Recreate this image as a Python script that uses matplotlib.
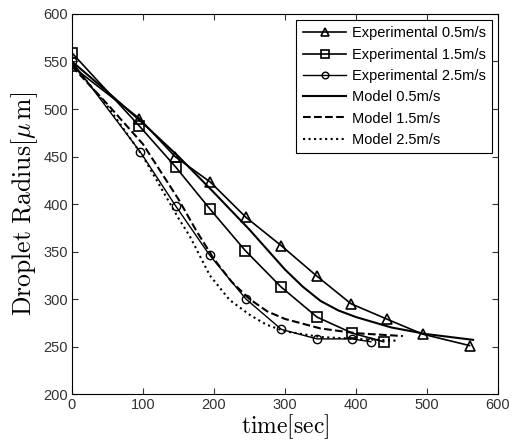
import matplotlib
matplotlib.use("Agg")
import matplotlib.pyplot as plt

plt.rcParams['mathtext.fontset'] = 'cm'
plt.rcParams['font.family'] = ['Liberation Sans', 'DejaVu Sans']

# Experimental data
t_exp05 = [0, 95, 145, 195, 245, 295, 345, 393, 443, 494, 560]
r_exp05 = [545, 490, 450, 423, 386, 356, 324, 295, 279, 263, 251]
t_exp15 = [0, 95, 146, 194, 244, 294, 345, 395, 439]
r_exp15 = [559, 482, 439, 395, 351, 313, 281, 264, 255]
t_exp25 = [0, 96, 146, 194, 245, 295, 345, 394, 421]
r_exp25 = [550, 455, 398, 346, 300, 268, 258, 258, 255]

# Model curves
t_mod05 = [0, 50, 100, 150, 200, 250, 275, 300, 325, 350, 375, 400, 450, 500, 565]
r_mod05 = [550, 518, 485, 450, 412, 373, 352, 331, 313, 298, 288, 281, 270, 263, 257]
t_mod15 = [0, 50, 100, 150, 175, 200, 225, 250, 275, 300, 350, 400, 466]
r_mod15 = [545, 505, 463, 405, 372, 342, 318, 300, 287, 279, 269, 264, 261]
t_mod25 = [0, 50, 100, 150, 166, 194, 222, 251, 274, 300, 350, 400, 460]
r_mod25 = [548, 503, 450, 385, 366, 325, 299, 283, 273, 266, 260, 258, 256]

fig = plt.figure(figsize=(5.19, 4.43), dpi=100)
ax = fig.add_axes([0.1387, 0.1106, 0.8208, 0.8578])

mk = dict(markerfacecolor='none', markeredgecolor='black', markersize=7, markeredgewidth=1.2)
ax.plot(t_exp05, r_exp05, '-^', color='black', lw=1.2, label='Experimental 0.5m/s', **mk)
ax.plot(t_exp15, r_exp15, '-s', color='black', lw=1.2, label='Experimental 1.5m/s', **mk)
ax.plot(t_exp25, r_exp25, '-o', color='black', lw=1.0, label='Experimental 2.5m/s',
        markerfacecolor='none', markeredgecolor='black', markersize=6, markeredgewidth=1.0)
ax.plot(t_mod05, r_mod05, '-', color='black', lw=1.5, label='Model 0.5m/s')
ax.plot(t_mod15, r_mod15, '--', color='black', lw=1.5, label='Model 1.5m/s')
ax.plot(t_mod25, r_mod25, ':', color='black', lw=1.5, label='Model 2.5m/s')

ax.set_xlim(0, 600)
ax.set_ylim(200, 600)
ax.set_xticks([0, 100, 200, 300, 400, 500, 600])
ax.set_yticks([200, 250, 300, 350, 400, 450, 500, 550, 600])
ax.tick_params(direction='in', top=True, right=True, labelsize=10.5, length=4,
               colors='#333333', pad=3)
for s in ax.spines.values():
    s.set_linewidth(0.8)

ax.set_xlabel(r'$\mathrm{time[sec]}$', fontsize=17, labelpad=0)
ax.set_ylabel(r'$\mathrm{Droplet\ Radius}[\mu\,\mathrm{m}]$', fontsize=18.5, labelpad=2)

leg = ax.legend(loc='upper right', fontsize=10.5, handlelength=3.0, fancybox=False,
                edgecolor='black', framealpha=1, borderaxespad=0.4, labelspacing=0.5,
                handletextpad=0.35, markerscale=0.8, borderpad=0.45)
leg.get_frame().set_linewidth(0.8)

fig.savefig('out.png', dpi=100)
